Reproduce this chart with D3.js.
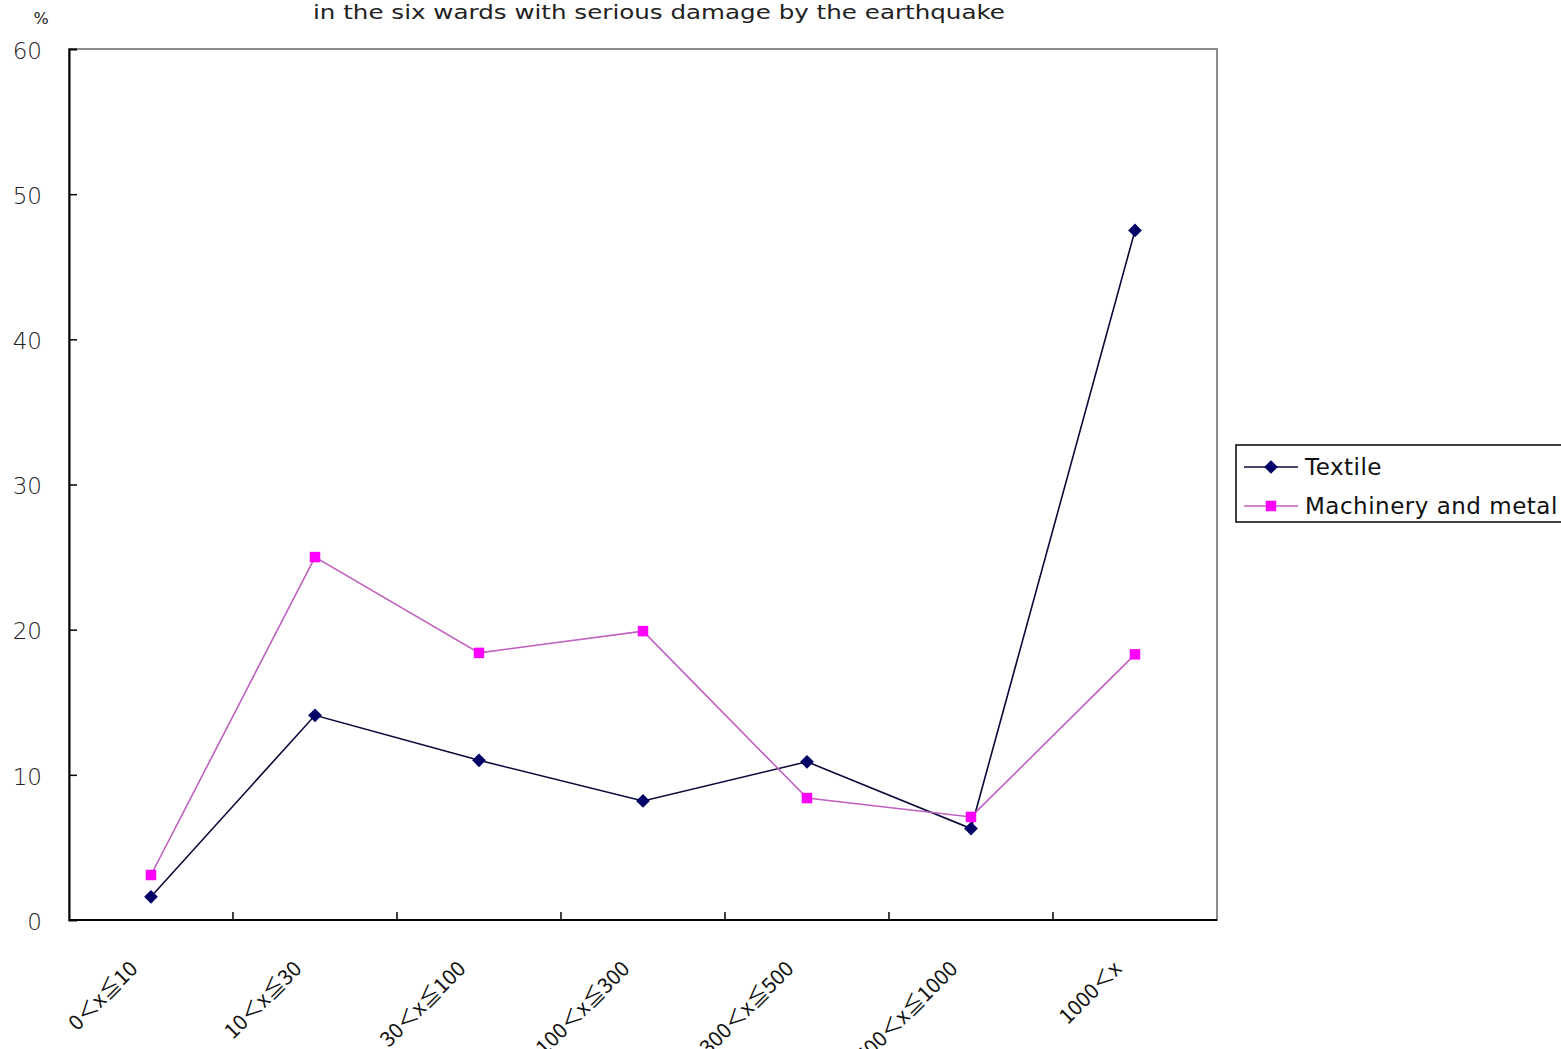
<!DOCTYPE html>
<html>
<head>
<meta charset="utf-8">
<script src="https://cdn.jsdelivr.net/npm/d3@7"></script>
<style>
  html, body { margin: 0; padding: 0; background: #fff; }
  svg { display: block; }
</style>
</head>
<body>
<svg id="chart" width="1561" height="1049"></svg>
<script>
// Share of factories by number of employees, six heavily damaged wards
const categories = ["0＜x≦10", "10＜x≦30", "30＜x≦100", "100＜x≦300", "300＜x≦500", "500＜x≦1000", "1000＜x"];
const textile = [1.6, 14.1, 11.0, 8.2, 10.9, 6.3, 47.5];
const machinery = [3.1, 25.0, 18.4, 19.9, 8.4, 7.1, 18.3];
const yTicks = [0, 10, 20, 30, 40, 50, 60];
const seriesNames = ["Textile", "Machinery and metal"];
const titleText = "in the six wards with serious damage by the earthquake";
const unitText = "%";

const FONT = "'DejaVu Sans', sans-serif";
const CJK = "'Noto Sans CJK JP', sans-serif";

const svg = d3.select("#chart");
const plot = { left: 69, right: 1217, top: 49, bottom: 920 };

const x = d3.scaleBand().domain(categories).range([plot.left, plot.right]);
const y = d3.scaleLinear().domain([0, 60]).range([plot.bottom, plot.top]);

// Frame: grey top/right, black axes
svg.append("rect")
  .attr("x", plot.left).attr("y", plot.top)
  .attr("width", plot.right - plot.left).attr("height", plot.bottom - plot.top)
  .attr("fill", "none").attr("stroke", "#8c8c8c").attr("stroke-width", 2);

// Y axis (ticks point inward)
const yAxis = d3.axisLeft(y).tickValues(yTicks).tickSize(-8).tickPadding(27);
const gy = svg.append("g").attr("transform", `translate(${plot.left},0)`).call(yAxis);
gy.select(".domain").attr("stroke", "#000").attr("stroke-width", 2);
gy.selectAll(".tick line").attr("stroke", "#000").attr("stroke-width", 1.5);
gy.selectAll(".tick text")
  .style("font-family", FONT).style("font-size", "23px").style("font-weight", "300")
  .attr("dy", "0.4em").attr("fill", "#222");
gy.selectAll(".tick").filter(d => d === 0 || d === 60).select("line").remove();

// X axis: ticks on band boundaries, pointing inward
const boundaries = categories.slice(1).map(c => x(c));
const gx = svg.append("g").attr("transform", `translate(0,${plot.bottom})`);
gx.append("line").attr("x1", plot.left).attr("x2", plot.right)
  .attr("stroke", "#000").attr("stroke-width", 2);
gx.selectAll("line.tk").data(boundaries).join("line").attr("class", "tk")
  .attr("x1", d => d).attr("x2", d => d).attr("y1", 0).attr("y2", -8)
  .attr("stroke", "#000").attr("stroke-width", 1.5);

// Rotated category labels
svg.append("g").selectAll("text").data(categories).join("text")
  .attr("transform", d => `translate(${x(d) + x.bandwidth() / 2 - 12},${plot.bottom + 50}) rotate(-45)`)
  .attr("text-anchor", "end")
  .style("font-family", CJK).style("font-size", "21px")
  .attr("fill", "#111")
  .text(d => d);

// Title and unit
svg.append("text").attr("x", 659).attr("y", 19).attr("text-anchor", "middle")
  .style("font-family", FONT).style("font-size", "19px")
  .attr("textLength", 692).attr("lengthAdjust", "spacingAndGlyphs")
  .attr("fill", "#222")
  .text(titleText);
svg.append("text").attr("x", 41).attr("y", 24).attr("text-anchor", "middle")
  .style("font-family", FONT).style("font-size", "16px")
  .attr("fill", "#222")
  .text(unitText);

const cx = d => x(d) + x.bandwidth() / 2;
const line = d3.line().x(d => cx(d.c)).y(d => y(d.v));

const series = [
  { name: seriesNames[0], values: textile, line: "#0a0a3a", fill: "#000066", shape: d3.symbolDiamond2 },
  { name: seriesNames[1], values: machinery, line: "#c060c0", fill: "#ff00ff", shape: d3.symbolSquare }
];
const markerSize = s => s.shape === d3.symbolSquare ? 110 : 120;

series.forEach(s => {
  const pts = categories.map((c, i) => ({ c, v: s.values[i] }));
  svg.append("path").datum(pts).attr("d", line)
    .attr("fill", "none").attr("stroke", s.line).attr("stroke-width", 1.6);
});
series.forEach(s => {
  const pts = categories.map((c, i) => ({ c, v: s.values[i] }));
  svg.append("g").selectAll("path").data(pts).join("path")
    .attr("transform", d => `translate(${cx(d.c)},${y(d.v)})`)
    .attr("d", d3.symbol().type(s.shape).size(markerSize(s)))
    .attr("fill", s.fill);
});

// Legend
const lg = svg.append("g").attr("transform", "translate(1236,445)");
lg.append("rect").attr("x", 0).attr("y", 0).attr("width", 340).attr("height", 77)
  .attr("fill", "#fff").attr("stroke", "#000").attr("stroke-width", 1.5);
series.forEach((s, i) => {
  const ly = 22 + i * 39;
  lg.append("line").attr("x1", 8).attr("x2", 62).attr("y1", ly).attr("y2", ly)
    .attr("stroke", s.line).attr("stroke-width", 1.6);
  lg.append("path").attr("transform", `translate(35,${ly})`)
    .attr("d", d3.symbol().type(s.shape).size(markerSize(s)))
    .attr("fill", s.fill);
  lg.append("text").attr("x", 69).attr("y", ly + 8)
    .style("font-family", FONT).style("font-size", "23px").style("letter-spacing", "0.5px")
    .attr("fill", "#111")
    .text(s.name);
});
</script>
</body>
</html>
